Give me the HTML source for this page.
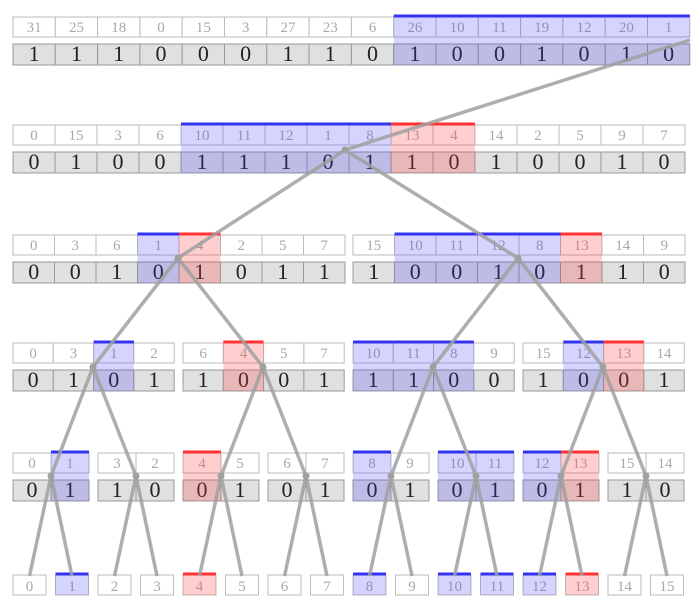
<!DOCTYPE html>
<html><head><meta charset="utf-8"><style>
html,body{margin:0;padding:0;background:#fff;width:700px;height:610px;overflow:hidden}
</style></head><body>
<svg id="s" xmlns="http://www.w3.org/2000/svg" width="700" height="610" viewBox="0 0 700 610"></svg>
<script>
var S=document.getElementById('s');var out='';
function R(x,y,w,h,f,st){out+='<rect x="'+x+'" y="'+y+'" width="'+w+'" height="'+h+'" fill="'+f+'" stroke="'+(st||'none')+'" stroke-width="1"/>';}
function T(x,y,t,sz,c){out+='<text x="'+x+'" y="'+y+'" font-family="Liberation Serif, serif" font-size="'+sz+'" fill="'+c+'" text-anchor="middle">'+t+'</text>';}
var L=[
{y:17,nodes:[{x:13,w:42.3,v:[31,25,18,0,15,3,27,23,6,26,10,11,19,12,20,1],b:[1,1,1,0,0,0,1,1,0,1,0,0,1,0,1,0],bl:[9,10,11,12,13,14,15],rd:[]}]},
{y:125,nodes:[{x:13,w:42,v:[0,15,3,6,10,11,12,1,8,13,4,14,2,5,9,7],b:[0,1,0,0,1,1,1,0,1,1,0,1,0,0,1,0],bl:[4,5,6,7,8],rd:[9,10]}]},
{y:235,nodes:[{x:13,w:41.5,v:[0,3,6,1,4,2,5,7],b:[0,0,1,0,1,0,1,1],bl:[3],rd:[4]},{x:353,w:41.5,v:[15,10,11,12,8,13,14,9],b:[1,0,0,1,0,1,1,0],bl:[1,2,3,4],rd:[5]}]},
{y:343,nodes:[{x:13,w:40.3,v:[0,3,1,2],b:[0,1,0,1],bl:[2],rd:[]},{x:183,w:40.3,v:[6,4,5,7],b:[1,0,0,1],bl:[],rd:[1]},{x:353,w:40.3,v:[10,11,8,9],b:[1,1,0,0],bl:[0,1,2],rd:[]},{x:523,w:40.3,v:[15,12,13,14],b:[1,0,0,1],bl:[1],rd:[2]}]},
{y:453,nodes:[]}
];
var v5=[[0,1],[3,2],[4,5],[6,7],[8,9],[10,11],[12,13],[15,14]],b5=[[0,1],[1,0],[0,1],[0,1],[0,1],[0,1],[0,1],[1,0]];
var bl5=[[1],[],[],[],[0],[0,1],[0],[]],rd5=[[],[],[0],[],[],[],[1],[]];
for(var i=0;i<8;i++)L[4].nodes.push({x:13+85*i,w:38,v:v5[i],b:b5[i],bl:bl5[i],rd:rd5[i]});
var hl='';
L.forEach(function(l){l.nodes.forEach(function(n){
 for(var i=0;i<n.v.length;i++){var x=n.x+i*n.w;
  R(x,l.y,n.w,20,'#fff','#bbb');T(x+n.w/2,l.y+15,n.v[i],15,'#a8a8a8');
  R(x,l.y+27,n.w,21,'#e0e0e0','#999');T(x+n.w/2,l.y+44,n.b[i],22,'#222');}
 [[n.bl,'rgba(60,60,255,0.22)','#3333ee'],[n.rd,'rgba(255,60,60,0.25)','#ff3333']].forEach(function(q){
  q[0].forEach(function(i){var x=n.x+i*n.w;
   hl+='<rect x="'+x+'" y="'+l.y+'" width="'+n.w+'" height="48" fill="'+q[1]+'"/>';
   hl+='<rect x="'+x+'" y="'+(l.y-2.5)+'" width="'+n.w+'" height="3" fill="'+q[2]+'"/>';});});
});});
out+=hl;
var blueLeaf=[1,8,10,11,12],redLeaf=[4,13];
for(var i=0;i<16;i++){var x=13+42.5*i;R(x,575,33,20,'#fff','#bbb');T(x+16.5,591,i,15,'#a8a8a8');
 var c=blueLeaf.indexOf(i)>=0?['rgba(60,60,255,0.22)','#3333ee']:(redLeaf.indexOf(i)>=0?['rgba(255,60,60,0.25)','#ff3333']:null);
 if(c){out+='<rect x="'+x+'" y="575" width="33" height="20" fill="'+c[0]+'"/><rect x="'+x+'" y="572.5" width="33" height="3" fill="'+c[1]+'"/>';}}
var E=[[690,40,345,150],[345,150,178,258],[345,150,518,258],[178,258,93,367],[178,258,263,367],[518,258,433,367],[518,258,603,367]];
for(var i=0;i<4;i++){var px=93+170*i;E.push([px,367,51+85*2*i,476]);E.push([px,367,136+85*2*i,476]);}
for(var i=0;i<8;i++){var px=51+85*i;E.push([px,476,29.5+85*i,576]);E.push([px,476,72+85*i,576]);}
var dots=[[345,150],[178,258],[518,258]];for(var i=0;i<4;i++)dots.push([93+170*i,367]);for(var i=0;i<8;i++)dots.push([51+85*i,476]);
E.forEach(function(e){out+='<line x1="'+e[0]+'" y1="'+e[1]+'" x2="'+e[2]+'" y2="'+e[3]+'" stroke="#a0a0a0" stroke-opacity="0.85" stroke-width="3.5"/>';});
dots.forEach(function(d){out+='<circle cx="'+d[0]+'" cy="'+d[1]+'" r="3.5" fill="#a0a0a0"/>';});
S.innerHTML=out;
</script>
</body></html>
